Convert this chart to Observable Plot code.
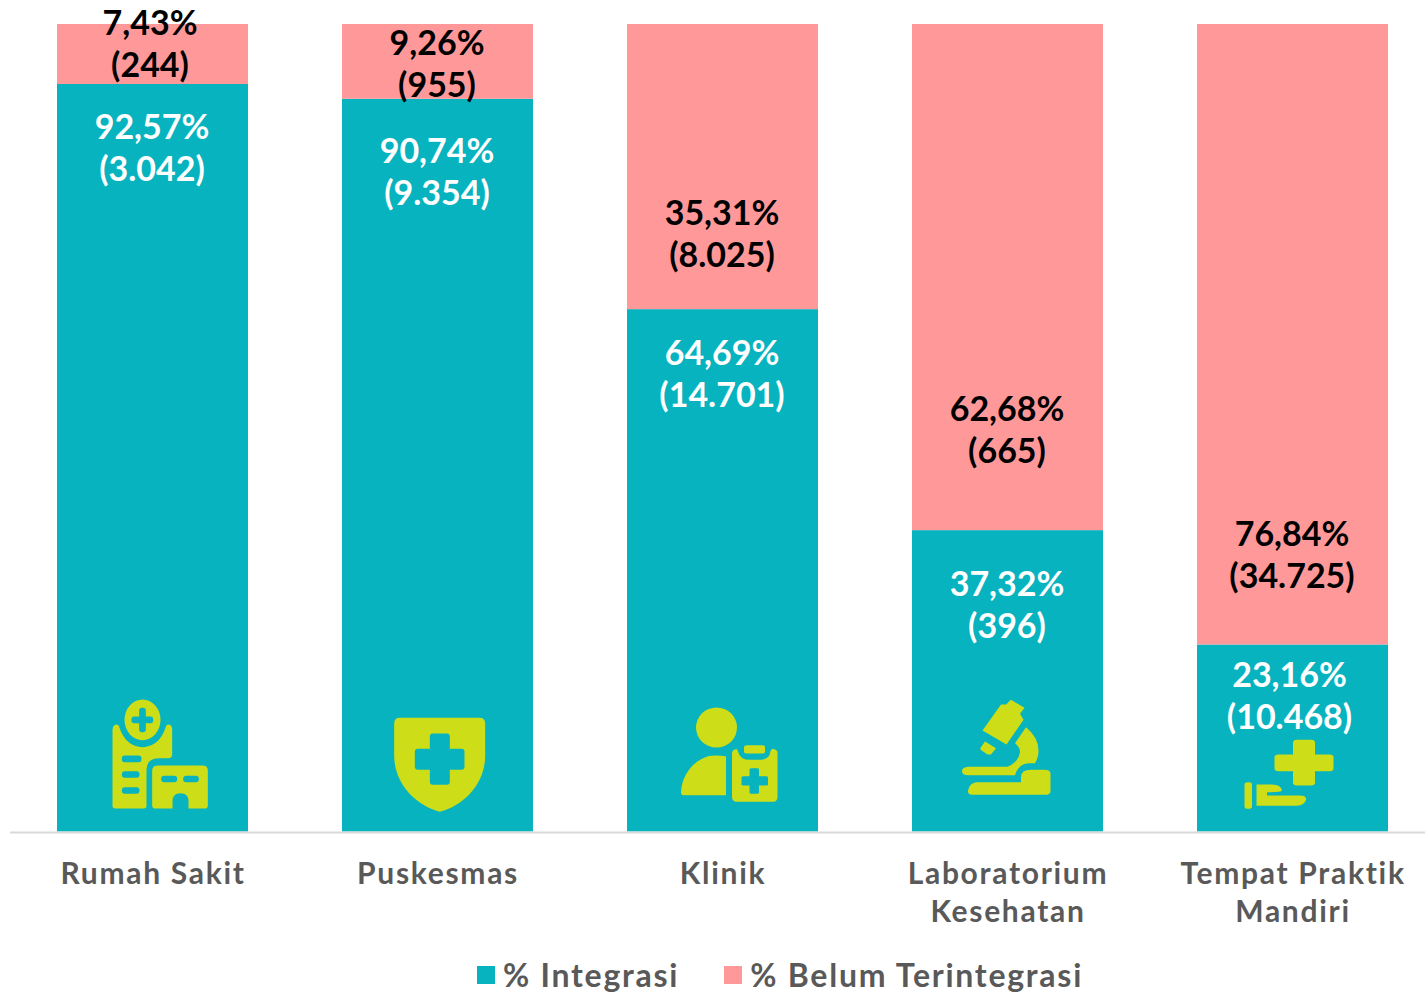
<!DOCTYPE html>
<html><head><meta charset="utf-8">
<script src="https://cdn.jsdelivr.net/npm/d3@7"></script>
<script src="https://cdn.jsdelivr.net/npm/@observablehq/plot@0.6"></script>
<style>
html,body{margin:0;padding:0;background:#fff;overflow:hidden}
#chart svg{display:block}
#chart g[aria-label="x-axis tick label"]{letter-spacing:1.7px}
#legend{display:flex;align-items:center;height:53px;margin-left:477px;font:700 32px Lato,sans-serif;color:#595959;letter-spacing:1.75px;transform:translateY(8px)}
#legend i{display:inline-block;width:18px;height:18px;margin-right:8px}
#legend span{display:flex;align-items:center;white-space:nowrap}
</style></head><body>
<div id="chart"></div>
<div id="legend"></div>
<script>
const categories = ["Rumah Sakit","Puskesmas","Klinik","Laboratorium\nKesehatan","Tempat Praktik\nMandiri"];
const pctIntegrasi = [92.57,90.74,64.69,37.32,23.16];
const countIntegrasi = [3042,9354,14701,396,10468];
const pctBelum = [7.43,9.26,35.31,62.68,76.84];
const countBelum = [244,955,8025,665,34725];
const seriesNames = ["% Integrasi","% Belum Terintegrasi"];
const seriesColors = ["#07B3BE","#FF9999"];
const iconColor = "#CDDE18";

const loc = d3.formatLocale({decimal:",",thousands:".",grouping:[3],currency:["",""]});
const fmtPct = loc.format(".2f"), fmtInt = loc.format(",d");
const lab = (p,c) => `${fmtPct(p)}%\n(${fmtInt(c)})`;

const rows = categories.flatMap((cat,i)=>[
  {cat, series:seriesNames[0], pct:pctIntegrasi[i]},
  {cat, series:seriesNames[1], pct:pctBelum[i]}
]);
const tealLabels = categories.map((cat,i)=>({cat, base:pctIntegrasi[i], text:lab(pctIntegrasi[i],countIntegrasi[i])}));
const pinkLabels = categories.map((cat,i)=>({cat, base:pctIntegrasi[i], text:lab(pctBelum[i],countBelum[i])}));

// label placement relative to the top of the teal segment, in pixels
const tealDy = [62,71,63,73,49.5], tealDx = [-1,-1,-1,-1,-3.5];
const pinkDy = [-41.5,-37,-77,-102,-91], pinkDx = [-3,-1,-1,-1,-1];

const C = seriesColors[0], L = iconColor;
const wrap = (vb, body) => "data:image/svg+xml;utf8," + encodeURIComponent(
  `<svg xmlns="http://www.w3.org/2000/svg" width="140" height="140" viewBox="${vb}" preserveAspectRatio="none">${body}</svg>`);
const rr = (x,y,w,h,r,f) => `<rect x="${x}" y="${y}" width="${w}" height="${h}" rx="${r}" ry="${r}" fill="${f}"/>`;

const hospital = wrap("97.5 34.5 420 420", `
<ellipse cx="276" cy="118" rx="54" ry="61" fill="${L}"/>
${rr(266,82,20,73,8,C)}${rr(243,108,65,20,8,C)}
<path fill="${L}" d="M186 148 Q187 133 197 132 Q205 132 207 142 C218 178 245 200 276 200 C307 200 334 178 345 142 Q347 132 355 132 Q365 133 365 148 V222 Q365 233 353 233 H322 Q288 235 288 268 V376 Q288 384 280 384 H194 Q186 384 186 376 Z"/>
${rr(214,225,59,20,9,C)}${rr(214,272,53,20,9,C)}${rr(214,320,53,20,9,C)}
<path fill="${L}" d="M322 255 H456 Q472 255 472 271 V374 Q472 384 462 384 H414 V362 Q414 338 390 338 Q366 338 366 362 V384 H315 Q305 384 305 374 V271 Q305 255 322 255 Z"/>
${rr(332,286,48,19,9,C)}${rr(398,286,47,19,9,C)}`);

const shield = wrap("952.5 34.5 420 420", `
<path fill="${L}" d="M1048 112 H1287 Q1304 112 1304 129 V225 C1304 310 1240 375 1168 394 C1096 375 1031 310 1031 225 V129 Q1031 112 1048 112 Z"/>
${rr(1138,159,60,154,9,C)}${rr(1093,205,149,63,9,C)}`);

const klinik = wrap("67 34.5 280 420", `
<ellipse cx="194" cy="141" rx="41" ry="60" fill="${L}"/>
<path fill="${L}" d="M213 228 V344 H128 Q123 344 123 335 C125 270 160 225 190 225 Q205 225 213 228 Z"/>
<path fill="${L}" d="M225 218 Q226 205 235 206 L237 212 Q240 238 262 238 H280 Q300 238 302 212 L305 205 Q316 206 316 218 V350 Q316 364 305 364 H237 Q225 364 225 350 Z"/>
${rr(249,194,42,25,6,L)}
${rr(260,263,19,77,4,C)}${rr(244,287,53,28,4,C)}`);

const micro = wrap("639 34.5 280 420", `
<path fill="${L}" d="M728 150 L765 72 L775 72 L785 58 L812 82 L803 100 L810 118 L776 192 Z"/>
<path fill="${L}" d="M733 183 L755 203 L745 222 L738 222 L724 208 L724 202 Z"/>
<path fill="${L}" d="M815 140 Q840 170 840 210 Q840 232 833 248 H820 Q800 250 793 284 H700 Q687 284 687 272 Q687 260 700 259 H778 Q800 245 803 215 Q803 200 793 188 Z"/>
<path fill="${L}" d="M725 305 H805 V290 Q805 268 825 268 H852 Q864 268 864 280 V332 Q864 343 852 343 H708 Q698 343 699 330 Q702 308 715 305 Z"/>`);

const hand = wrap("1212 34.5 280 420", `
${rr(1352,178,44,137,8,L)}${rr(1315,222,118,50,8,L)}
${rr(1255,305,15,80,7,L)}
<path fill="${L}" d="M1279 312 H1310 Q1328 312 1330 330 Q1328 336 1300 335 V345 H1365 Q1380 345 1378 358 Q1375 375 1360 376 H1279 Z"/>`);

const icons = [hospital, shield, klinik, micro, hand];
const iconRows = categories.map((cat,i)=>({cat, src:icons[i]}));

const labelStyle = {fontFamily:"Lato,sans-serif", fontWeight:700, fontSize:34, lineHeight:42/34};

const plot = Plot.plot({
  width:1425, height:940,
  marginLeft:10, marginRight:0, marginTop:24, marginBottom:108.5,
  style:{background:"transparent", fontFamily:"Lato,sans-serif", overflow:"visible"},
  x:{domain:categories, range:[10,1435], paddingInner:.3315, paddingOuter:.16575, label:null},
  y:{domain:[0,100], range:[831.5,24], axis:null},
  color:{domain:seriesNames, range:seriesColors},
  marks:[
    Plot.barY(rows,{x:"cat", y:"pct", fill:"series"}),
    Plot.ruleY([0],{stroke:"#D9D9D9", strokeWidth:2, dy:.5}),
    Plot.image(iconRows,{x:"cat", y:()=>0, src:"src", width:140, height:140, dy:-70}),
    ...tealLabels.map((d,i)=>Plot.text([d],{x:"cat", y:"base", text:"text", fill:"#fff", dy:tealDy[i], dx:tealDx[i], ...labelStyle})),
    ...pinkLabels.map((d,i)=>Plot.text([d],{x:"cat", y:"base", text:"text", fill:"#000", dy:pinkDy[i], dx:pinkDx[i], ...labelStyle})),
    Plot.axisX({domain:categories, tickSize:0, tickPadding:25, label:null, fontSize:30, fontWeight:700, lineHeight:38/30, fill:"#595959", fontFamily:"Lato,sans-serif"})
  ]
});
document.getElementById("chart").append(plot);

const lg = document.getElementById("legend");
seriesNames.forEach((n,i)=>{
  const s = document.createElement("span");
  if(i) s.style.marginLeft = "45px";
  const sw = document.createElement("i"); sw.style.background = seriesColors[i];
  s.append(sw, n); lg.append(s);
});
</script>
</body></html>
